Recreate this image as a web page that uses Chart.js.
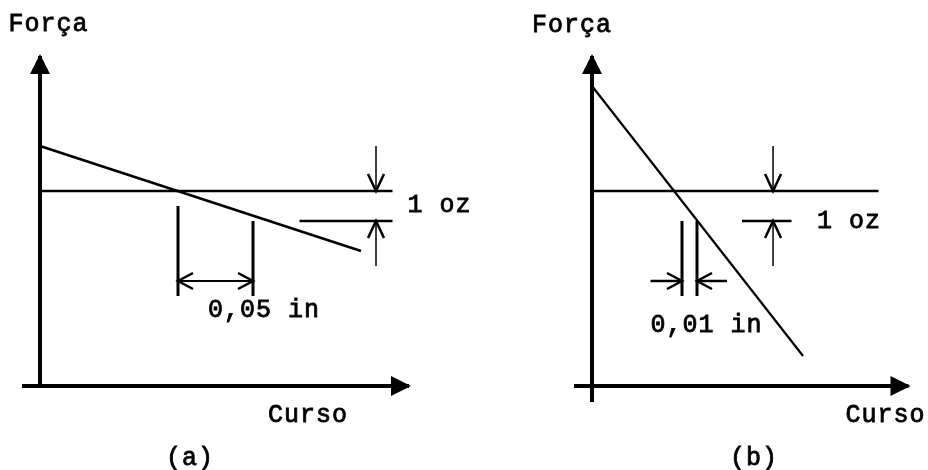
<!DOCTYPE html>
<html>
<head>
<meta charset="utf-8">
<script src="https://cdn.jsdelivr.net/npm/chart.js@4.4.1/dist/chart.umd.min.js"></script>
<style>
  html, body { margin: 0; padding: 0; background: #fff; }
  #wrap { position: relative; width: 928px; height: 470px; }
</style>
</head>
<body>
<div id="wrap"><canvas id="chart"></canvas></div>
<script>
// Curso in inches, Força in oz.

// ── Panel (a): soft spring ─────────────────────────────────
const aSpringCurso = [0, 0.214];
const aSpringForca = [8.0, 4.5];
const aRefCurso    = [0, 0.235];
const aLowCurso    = [0.173, 0.235];
const aDimCurso    = [0.092, 0.142];   // 0,05 in apart
const aDimTop      = [6.0, 5.5];
const aOzCurso     = 0.224;
const aAxisCurso   = [-0.012, 0.246];
const aAxisForca   = [0, 11.0];

// ── Panel (b): stiff spring ────────────────────────────────
const bSpringCurso = [0, 0.1407];
const bSpringForca = [10.0, 1.0];
const bRefCurso    = [0, 0.191];
const bLowCurso    = [0.100, 0.133];
const bDimCurso    = [0.060, 0.070];   // 0,01 in apart
const bDimTop      = [5.5, 5.5];
const bDimTails    = [0.039, 0.090];
const bOzCurso     = 0.1207;
const bAxisCurso   = [-0.012, 0.211];
const bAxisForca   = [-0.53, 11.0];

// ── shared levels ──────────────────────────────────────────
const refForca      = 6.5;
const lowForca      = 5.5;   // 1 oz below
const dimBottom     = 3.0;
const dimArrowForca = 3.5;
const ozArrowFrom   = [8.0, 4.0];

const axisTitles  = ['Força', 'Curso'];
const panelNames  = ['(a)', '(b)'];
const ozLabel     = '1 oz';
const dimLabels   = ['0,05 in', '0,01 in'];

// ── scale mapping (px per unit, origin pixels) ─────────────
const W = 928, H = 470;
const PX_IN = 1500, PX_OZ = 30;
const ORIGIN_A = 40, ORIGIN_B = 592, ORIGIN_Y = 386;

function seg(xAxisID, xs, ys, width, extra) {
  return Object.assign({
    data: xs.map((x, i) => ({ x, y: ys[i] })),
    xAxisID, yAxisID: 'y',
    borderColor: '#000',
    borderWidth: width,
    borderCapStyle: 'butt',
    showLine: true,
    pointRadius: 0,
    fill: false,
  }, extra || {});
}

const FILLED = { arrowEnd: 'filled', arrowSize: [18, 10] };
const OZ_HEAD = { arrowEnd: 'open', arrowSize: [17, 8] };
const DIM_HEAD = [15, 8];

const datasets = [
  // panel (a)
  seg('xa', aAxisCurso, [0, 0], 4, FILLED),
  seg('xa', [0, 0], aAxisForca, 4, FILLED),
  seg('xa', aSpringCurso, aSpringForca, 2.7),
  seg('xa', aRefCurso, [refForca, refForca], 2.5),
  seg('xa', aLowCurso, [lowForca, lowForca], 2.5),
  seg('xa', [aOzCurso, aOzCurso], [ozArrowFrom[0], refForca], 1.5, OZ_HEAD),
  seg('xa', [aOzCurso, aOzCurso], [ozArrowFrom[1], lowForca], 1.5, OZ_HEAD),
  seg('xa', [aDimCurso[0], aDimCurso[0]], [aDimTop[0], dimBottom], 3),
  seg('xa', [aDimCurso[1], aDimCurso[1]], [aDimTop[1], dimBottom], 3),
  seg('xa', aDimCurso, [dimArrowForca, dimArrowForca], 2,
      { arrowStart: 'open', arrowEnd: 'open', arrowSize: DIM_HEAD }),

  // panel (b)
  seg('xb', bAxisCurso, [0, 0], 4, FILLED),
  seg('xb', [0, 0], bAxisForca, 4, FILLED),
  seg('xb', bSpringCurso, bSpringForca, 2.2),
  seg('xb', bRefCurso, [refForca, refForca], 2.5),
  seg('xb', bLowCurso, [lowForca, lowForca], 2.5),
  seg('xb', [bOzCurso, bOzCurso], [ozArrowFrom[0], refForca], 1.5, OZ_HEAD),
  seg('xb', [bOzCurso, bOzCurso], [ozArrowFrom[1], lowForca], 1.5, OZ_HEAD),
  seg('xb', [bDimCurso[0], bDimCurso[0]], [bDimTop[0], dimBottom], 3),
  seg('xb', [bDimCurso[1], bDimCurso[1]], [bDimTop[1], dimBottom], 3),
  seg('xb', [bDimTails[0], bDimCurso[0]], [dimArrowForca, dimArrowForca], 2.5,
      { arrowEnd: 'open', arrowSize: DIM_HEAD }),
  seg('xb', [bDimTails[1], bDimCurso[1]], [dimArrowForca, dimArrowForca], 2.5,
      { arrowEnd: 'open', arrowSize: DIM_HEAD }),
];

// text anchors in data units (left edge, baseline)
const texts = [
  { t: axisTitles[0], ax: 'xa', x: -0.021, y: 11.83 },
  { t: axisTitles[1], ax: 'xa', x: 0.152,  y: -1.2 },
  { t: panelNames[0], ax: 'xa', x: 0.084,  y: -2.62 },
  { t: ozLabel,       ax: 'xa', x: 0.245,  y: 5.8 },
  { t: dimLabels[0],  ax: 'xa', x: 0.112,  y: 2.3 },
  { t: axisTitles[0], ax: 'xb', x: -0.040, y: 11.8 },
  { t: axisTitles[1], ax: 'xb', x: 0.169,  y: -1.2 },
  { t: panelNames[1], ax: 'xb', x: 0.092,  y: -2.62 },
  { t: ozLabel,       ax: 'xb', x: 0.150,  y: 5.27 },
  { t: dimLabels[1],  ax: 'xb', x: 0.039,  y: 1.8 },
];

function drawHead(ctx, tip, from, kind, size) {
  const dx = tip.x - from.x, dy = tip.y - from.y;
  const len = Math.hypot(dx, dy) || 1;
  const ux = dx / len, uy = dy / len;
  const [L, Wd] = size;
  const bx = tip.x - ux * L, by = tip.y - uy * L;
  const p1 = { x: bx - uy * Wd, y: by + ux * Wd };
  const p2 = { x: bx + uy * Wd, y: by - ux * Wd };
  ctx.save();
  ctx.fillStyle = '#000';
  ctx.strokeStyle = '#000';
  ctx.lineJoin = 'miter';
  ctx.beginPath();
  if (kind === 'filled') {
    ctx.moveTo(tip.x + ux * 2, tip.y + uy * 2);
    ctx.lineTo(p1.x, p1.y);
    ctx.lineTo(p2.x, p2.y);
    ctx.closePath();
    ctx.fill();
  } else {
    ctx.lineWidth = 2.5;
    ctx.moveTo(p1.x, p1.y);
    ctx.lineTo(tip.x, tip.y);
    ctx.lineTo(p2.x, p2.y);
    ctx.stroke();
  }
  ctx.restore();
}

const annotate = {
  id: 'annotate',
  afterDatasetsDraw(chart) {
    const ctx = chart.ctx;
    chart.data.datasets.forEach((ds, i) => {
      const pts = chart.getDatasetMeta(i).data;
      const n = pts.length;
      if (ds.arrowEnd) drawHead(ctx, pts[n - 1], pts[n - 2], ds.arrowEnd, ds.arrowSize);
      if (ds.arrowStart) drawHead(ctx, pts[0], pts[1], ds.arrowStart, ds.arrowSize);
    });
    ctx.save();
    ctx.fillStyle = '#000';
    ctx.strokeStyle = '#000';
    ctx.lineWidth = 0.8;
    ctx.font = '25px "Liberation Mono", "Courier New", monospace';
    ctx.letterSpacing = '1px';
    ctx.textAlign = 'left';
    ctx.textBaseline = 'alphabetic';
    const ys = chart.scales.y;
    texts.forEach(o => {
      const px = chart.scales[o.ax].getPixelForValue(o.x);
      const py = ys.getPixelForValue(o.y);
      ctx.fillText(o.t, px, py);
      ctx.strokeText(o.t, px, py);
    });
    ctx.restore();
  }
};

new Chart(document.getElementById('chart'), {
  type: 'scatter',
  data: { datasets },
  options: {
    responsive: true,
    maintainAspectRatio: false,
    animation: false,
    layout: { padding: 0 },
    scales: {
      xa: { type: 'linear', display: false, min: -ORIGIN_A / PX_IN, max: (W - ORIGIN_A) / PX_IN },
      xb: { type: 'linear', display: false, min: -ORIGIN_B / PX_IN, max: (W - ORIGIN_B) / PX_IN },
      y:  { type: 'linear', display: false, min: -(H - ORIGIN_Y) / PX_OZ, max: ORIGIN_Y / PX_OZ },
    },
    plugins: {
      legend: { display: false },
      tooltip: { enabled: false },
    },
  },
  plugins: [annotate],
});
</script>
</body>
</html>
